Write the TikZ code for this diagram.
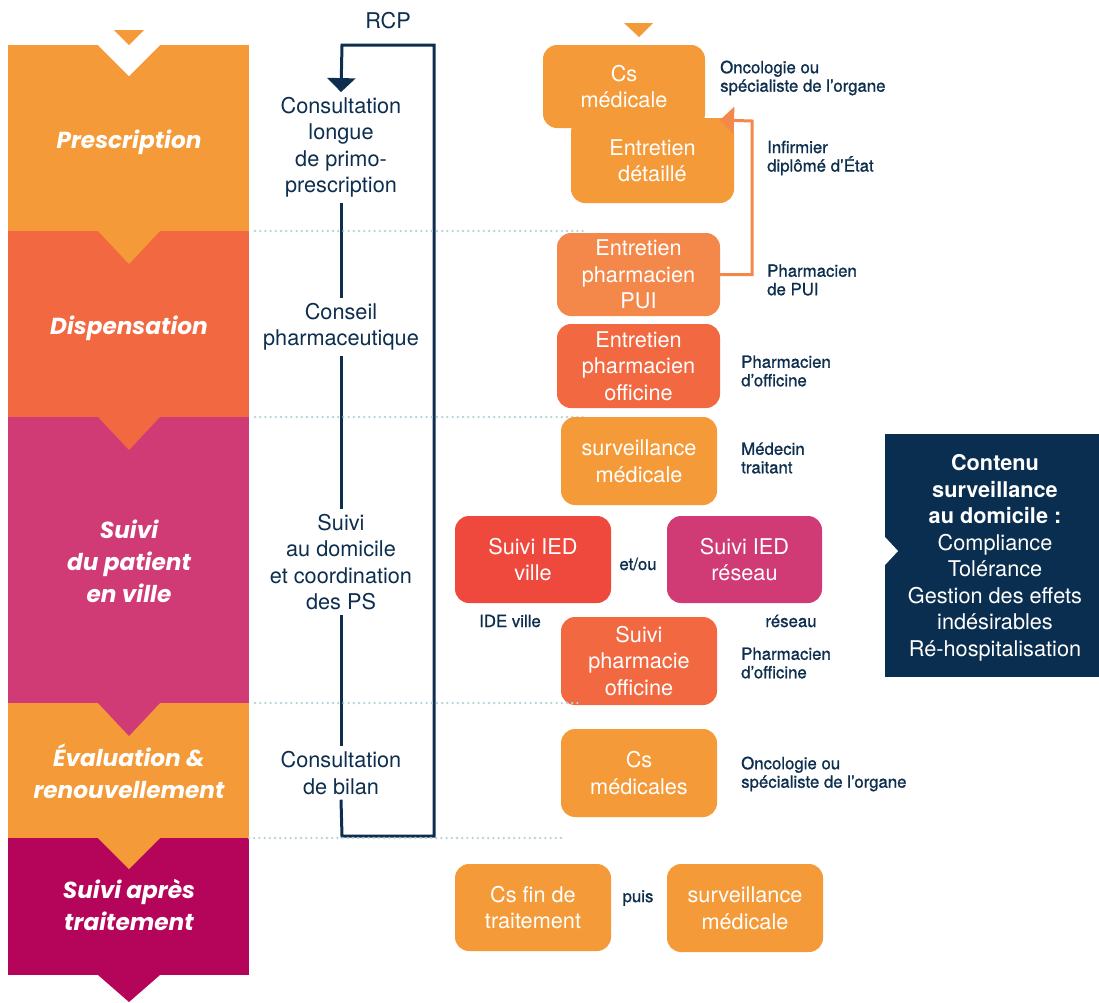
\documentclass[tikz,border=0pt]{standalone}
\usepackage{fontspec}
\setmainfont{TeX Gyre Heros}
\newfontfamily\labfont{Poppins}
\newfontfamily\sdfam[FakeBold=1]{TeX Gyre Heros}
\usetikzlibrary{arrows.meta}
\definecolor{cOr}{HTML}{F59A38}
\definecolor{cDis}{HTML}{F26841}
\definecolor{cPui}{HTML}{F4874A}
\definecolor{cPink}{HTML}{D03B76}
\definecolor{cCrim}{HTML}{B5055A}
\definecolor{cRed}{HTML}{EF483C}
\definecolor{cNavy}{HTML}{0D2E4E}
\definecolor{cPanel}{HTML}{0A2E4F}
\definecolor{cDot}{HTML}{B5D3DB}
\newcommand\bxfont{\fontsize{21.7}{26.5}\selectfont}
\newcommand\sdfont{\sdfam\fontsize{16.8}{18.5}\selectfont}
\newcommand\bandfont{\labfont\bfseries\itshape\fontsize{23.2}{32}\selectfont}
\begin{document}
\begin{tikzpicture}[x=1pt,y=-1pt,
  bx/.style={rounded corners=14pt, text=white, align=center, font=\bxfont, inner sep=0pt},
  side/.style={anchor=west, align=left, text=cNavy, font=\sdfont, inner sep=0pt},
  mid/.style={align=center, text=cNavy, font=\bxfont, inner xsep=0pt, inner ysep=5pt},
  band/.style={align=center, text=white, font=\bandfont, inner sep=0pt},
  loopline/.style={draw=cNavy, line width=3pt},
  dotline/.style={draw=cDot, line width=2.6pt, line cap=round, dash pattern=on 0pt off 5.2pt}]
\useasboundingbox (0,0) rectangle (1099,1002);
% bands
\fill[cOr] (8,45) rectangle (249,231);
\fill[cDis] (8,231) rectangle (249,417);
\fill[cPink] (8,417) rectangle (249,703);
\fill[cOr] (8,703) rectangle (249,838);
\fill[cCrim] (8,838) rectangle (249,975);
% chevrons
\fill[white] (98,45) -- (160,45) -- (129,76) -- cycle;
\fill[cOr] (114,30) -- (144,30) -- (129,45) -- cycle;
\fill[cOr] (98,231) -- (160,231) -- (129,264) -- cycle;
\fill[cDis] (98,417) -- (160,417) -- (129,450) -- cycle;
\fill[cPink] (98,703) -- (160,703) -- (129,736) -- cycle;
\fill[cOr] (98,838) -- (160,838) -- (129,869) -- cycle;
\fill[cCrim] (98,975) -- (160,975) -- (129,1002) -- cycle;
\fill[cOr] (624,23) -- (653,23) -- (639,37) -- cycle;
% band labels
\node[band] (l1) at (129,142) {Prescription};
\node[band] (l2) at (129,328) {Dispensation};
\node[band] (l3) at (129,561) {Suivi\\du patient\\en ville};
\node[band] (l4) at (129,771) {Évaluation \&\\renouvellement};
\node[band] (l5) at (129,905) {Suivi après\\traitement};
% middle column
\node[text=cNavy, font=\bxfont, inner sep=0pt] (rcp) at (388,21) {RCP};
\node[mid] (c1) at (341,147.5) {Consultation\\longue\\de primo-\\prescription};
\node[mid] (c2) at (341,327) {Conseil\\pharmaceutique};
\node[mid] (c3) at (341,562) {Suivi\\au domicile\\et coordination\\des PS};
\node[mid] (c4) at (341,773) {Consultation\\de bilan};
\coordinate (lb) at (342,836);
\coordinate (rb) at (434,836);
\coordinate (rt) at (434,45);
\coordinate (lt) at (342,45);
\draw[loopline] (c1.south) -- (c2.north);
\draw[loopline] (c2.south) -- (c3.north);
\draw[loopline] (c3.south) -- (c4.north);
\draw[loopline, line join=miter, -{Triangle[width=28pt,length=14pt]}] (c4.south) -- (lb) -- (rb) -- (rt) -- (lt) -- (c1.north);
% dotted separators
\draw[dotline] (255,231) -- (583,231);
\draw[dotline] (255,417) -- (583,417);
% boxes
\node[bx, fill=cOr, minimum width=162pt, minimum height=83pt] (csm) at (624,86.5) {Cs\\médicale};
\node[bx, fill=cOr, minimum width=163pt, minimum height=85pt] (ed) at (652.5,160.5) {Entretien\\détaillé};
\node[bx, fill=cPui, minimum width=163pt, minimum height=83pt] (pui) at (638.5,274.5) {Entretien\\pharmacien\\PUI};
\node[bx, fill=cDis, minimum width=163pt, minimum height=84pt] (epo) at (638.5,366) {Entretien\\pharmacien\\officine};
\node[bx, fill=cOr, minimum width=156pt, minimum height=88pt] (sm) at (639,461) {surveillance\\médicale};
\node[bx, fill=cRed, minimum width=156pt, minimum height=87pt] (iedv) at (533,559.5) {Suivi IED\\ville};
\node[bx, fill=cPink, minimum width=155pt, minimum height=87pt] (iedr) at (744.5,559.5) {Suivi IED\\réseau};
\node[bx, fill=cDis, minimum width=156pt, minimum height=88pt] (spo) at (639,661) {Suivi\\pharmacie\\officine};
\node[bx, fill=cOr, minimum width=156pt, minimum height=88pt] (csms) at (639,773) {Cs\\médicales};
\node[bx, fill=cOr, minimum width=156pt, minimum height=87pt] (csf) at (533,907.5) {Cs fin de\\traitement};
\node[bx, fill=cOr, minimum width=156pt, minimum height=88pt] (smb) at (745,908) {surveillance\\médicale};
\draw[dotline] (255,703) -- (582,703);
\draw[dotline] (249,838) -- (565,838);
% orange connector
\coordinate (oc) at (752,121);
\coordinate (otip) at (720,120);
\draw[draw=cPui, line width=3pt, line join=miter, -{Triangle[width=27pt,length=14pt]}] (pui.east) -| (oc) -- (otip);
% side labels
\node[side] (s1) at (720,78) {Oncologie ou\\spécialiste de l’organe};
\node[side] (s2) at (767,158) {Infirmier\\diplômé d’État};
\node[side] (s3) at (767,280) {Pharmacien\\de PUI};
\node[side] (s4) at (741,371) {Pharmacien\\d’officine};
\node[side] (s5) at (741,458) {Médecin\\traitant};
\node[side] (s6) at (741,663) {Pharmacien\\d’officine};
\node[side] (s7) at (741,774) {Oncologie ou\\spécialiste de l’organe};
\node[text=cNavy, font=\sdfont, inner sep=0pt] (etou) at (638,564) {et/ou};
\node[text=cNavy, font=\sdfont, inner sep=0pt] (ide) at (510,621) {IDE ville};
\node[text=cNavy, font=\sdfont, inner sep=0pt] (res) at (791,621) {réseau};
\node[text=cNavy, font=\sdfont, inner sep=0pt] (puis) at (638,898) {puis};
% panel
\fill[cPanel] (885,434) rectangle (1099,677);
\node[inner sep=0pt, text=white, align=center, font=\bxfont] (panel) at (995,558)
  {\textbf{Contenu}\\\textbf{surveillance}\\\textbf{au domicile :}\\Compliance\\Tolérance\\Gestion des effets\\indésirables\\Ré-hospitalisation};
\fill[white] (885,537) -- (898,551) -- (885,565) -- cycle;
\end{tikzpicture}
\end{document}
